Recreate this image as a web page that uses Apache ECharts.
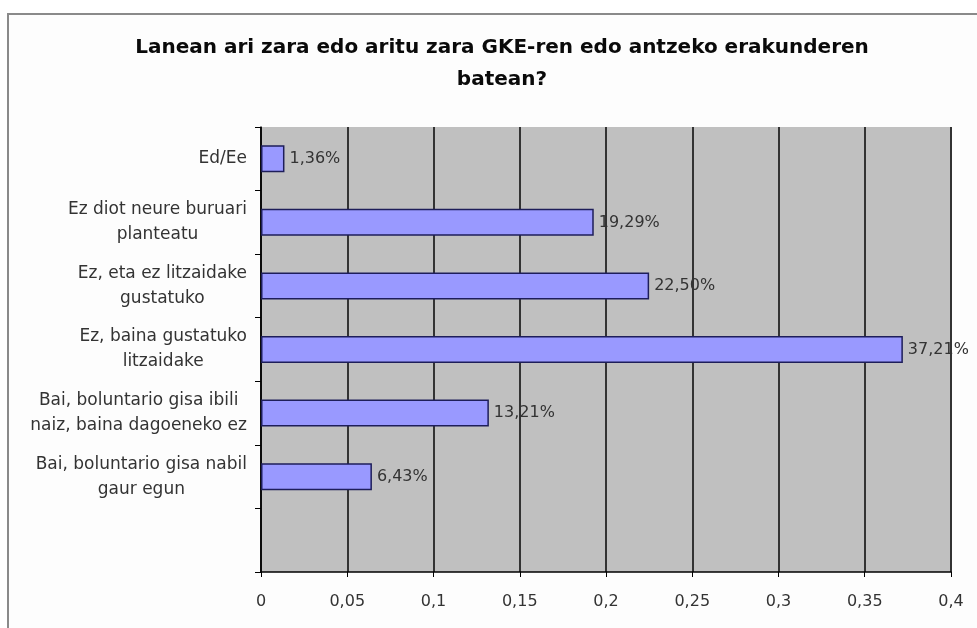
<!DOCTYPE html>
<html>
<head>
<meta charset="utf-8">
<script src="https://cdn.jsdelivr.net/npm/echarts@6/dist/echarts.min.js"></script>
<style>html,body{margin:0;padding:0;background:#fff;}#c{width:977px;height:628px;}</style>
</head>
<body>
<div id="c"></div>
<script>
const titleText = 'Lanean ari zara edo aritu zara GKE-ren edo antzeko erakunderen\nbatean?';
const categories = [
  'Ed/Ee',
  'Ez diot neure buruari\nplanteatu',
  'Ez, eta ez litzaidake\ngustatuko',
  'Ez, baina gustatuko\nlitzaidake',
  'Bai, boluntario gisa ibili\nnaiz, baina dagoeneko ez',
  'Bai, boluntario gisa nabil\ngaur egun'
];
const values = [0.0136, 0.1929, 0.2250, 0.3721, 0.1321, 0.0643];
const xTicks = { min: 0, max: 0.4, interval: 0.05 };

const chart = echarts.init(document.getElementById('c'));
chart.setOption({
  animation: false,
  backgroundColor: '#fff',
  graphic: [{
    type: 'rect', left: 7, top: 13, z: -1,
    shape: { width: 1000, height: 700 },
    style: { fill: '#fdfdfd', stroke: '#8a8a8a', lineWidth: 2 }
  }],
  title: {
    text: titleText,
    left: 497, top: 27,
    textAlign: 'center',
    textStyle: { fontFamily: 'DejaVu Sans', fontWeight: 'bold', fontSize: 20, lineHeight: 32, color: '#0a0a0a' }
  },
  grid: { left: 261, top: 127, right: 26, bottom: 56, show: true, backgroundColor: '#c0c0c0', borderWidth: 0 },
  xAxis: {
    type: 'value', min: xTicks.min, max: xTicks.max, interval: xTicks.interval,
    axisLine: { show: true, lineStyle: { color: '#000', width: 1.5 } },
    axisTick: { show: true, length: 5, lineStyle: { color: '#000' } },
    splitLine: { show: true, lineStyle: { color: '#333', width: 2 } },
    axisLabel: {
      margin: 22, fontFamily: 'DejaVu Sans', fontSize: 16, color: '#333',
      formatter: v => String(+v.toFixed(2)).replace('.', ',')
    }
  },
  yAxis: {
    type: 'category', inverse: true,
    data: categories.concat(['']),
    axisLine: { show: true, lineStyle: { color: '#000', width: 1.5 } },
    axisTick: { show: true, length: 6, lineStyle: { color: '#000' } },
    splitLine: { show: false },
    axisLabel: {
      margin: 14, align: 'right', lineHeight: 25,
      fontFamily: 'DejaVu Sans', fontSize: 17, color: '#333',
      formatter: v => v.split('\n').map(s => '{c|' + s + '}').join('\n'),
      rich: { c: { align: 'center', fontFamily: 'DejaVu Sans', fontSize: 17, color: '#333', lineHeight: 25 } }
    }
  },
  series: [{
    type: 'bar',
    data: values,
    barWidth: 27,
    itemStyle: { color: '#9999ff', borderColor: '#1e1e5a', borderWidth: 1.5 },
    label: {
      show: true, position: 'right', distance: 5,
      fontFamily: 'DejaVu Sans', fontSize: 16, color: '#333',
      formatter: p => (p.value * 100).toFixed(2).replace('.', ',') + '%'
    }
  }]
});
</script>
</body>
</html>
